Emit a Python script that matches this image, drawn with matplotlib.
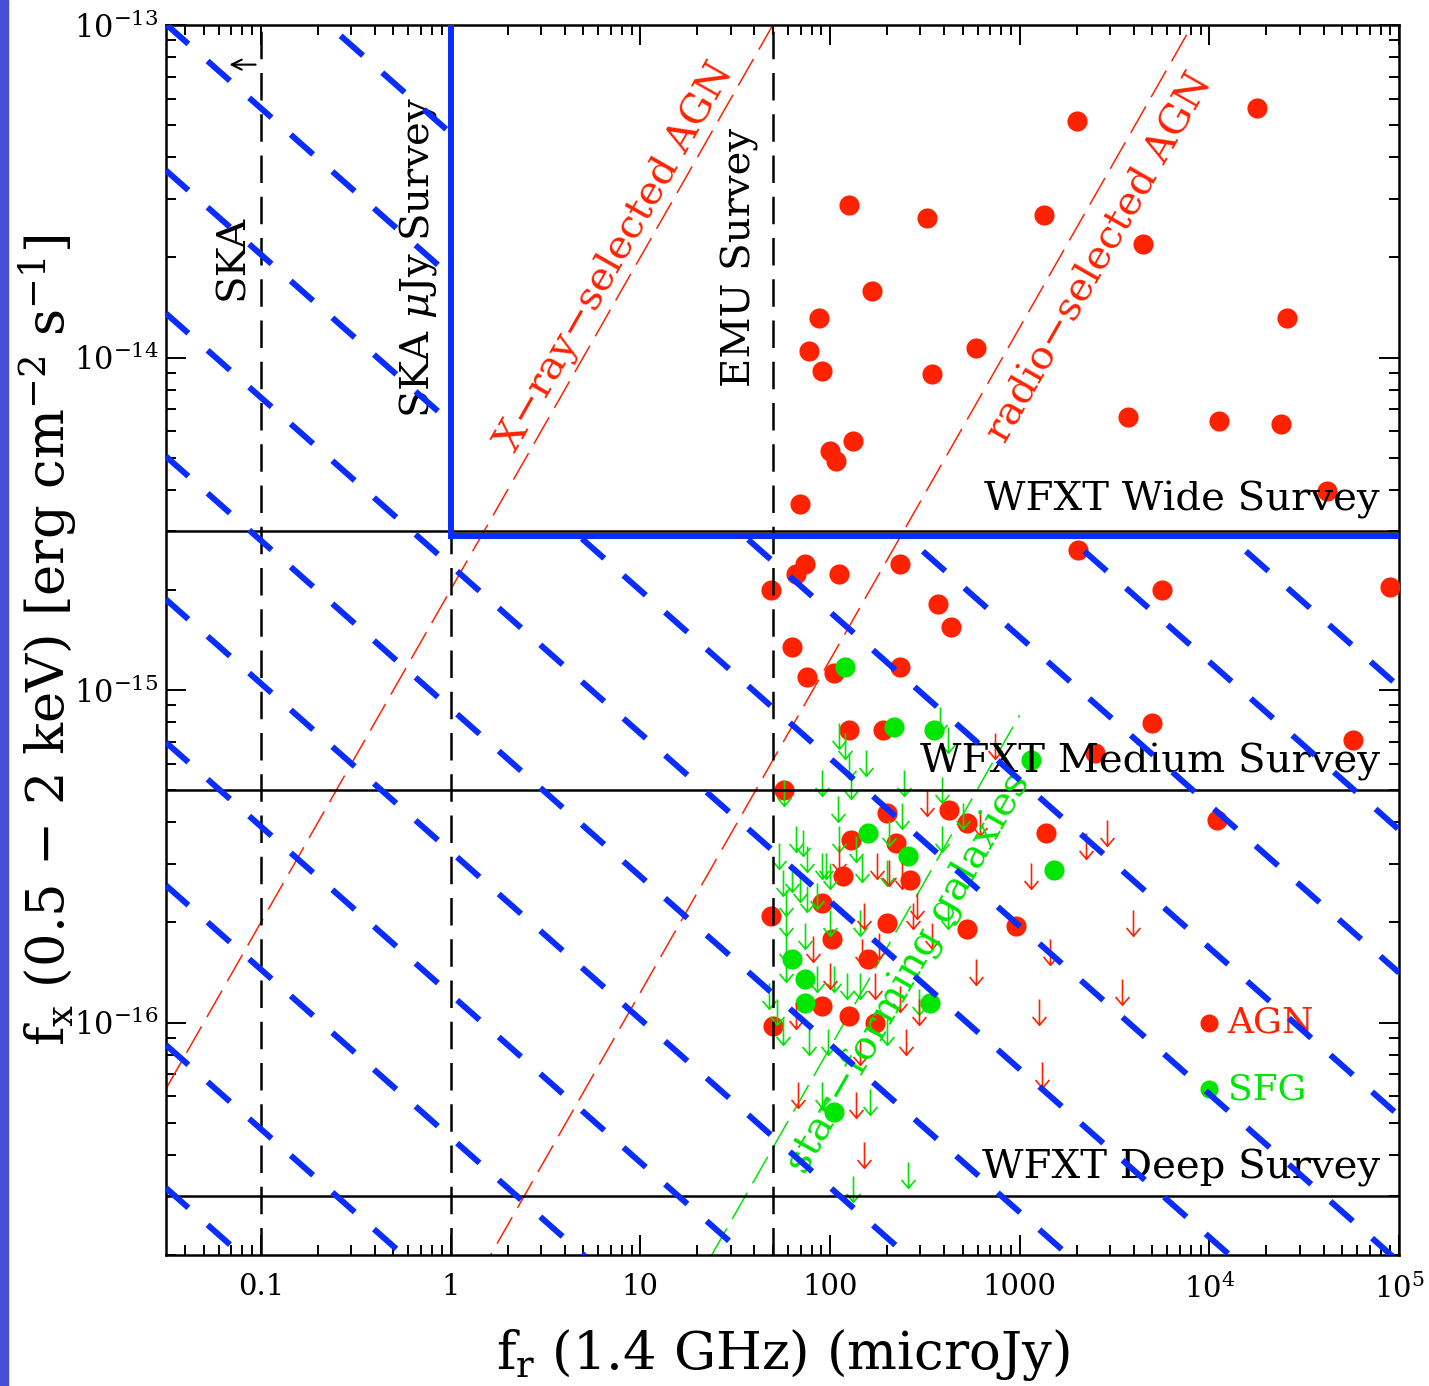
import numpy as np
import matplotlib
matplotlib.use("Agg")
import matplotlib.pyplot as plt
from matplotlib.path import Path
from matplotlib.patches import Polygon, Rectangle
from matplotlib.ticker import FixedLocator, FixedFormatter, LogLocator, NullFormatter

plt.rcParams['font.family'] = ['DejaVu Serif']
plt.rcParams['mathtext.fontset'] = 'dejavuserif'

# ---------------- data (log10 of f_r [microJy], log10 of f_x [erg cm^-2 s^-1]) -------------
agn_log_fr = [4.25, 3.30, 2.10, 2.51, 3.13, 3.65, 2.22, 1.94, 4.41, 1.89, 1.96, 2.77, 2.54,
              3.57, 4.05, 4.38, 2.12, 2.00, 2.03, 1.84, 4.62, 3.31, 1.87, 1.82, 2.05, 1.69,
              2.37, 3.75, 4.95, 2.57, 2.64, 1.80, 2.37, 1.88, 2.02, 2.10, 2.28, 3.70, 4.76,
              3.40, 1.76, 2.63, 2.30, 2.72, 2.11, 2.35, 3.14, 2.07, 2.42, 1.96, 1.69, 2.01,
              2.30, 2.72, 2.98, 2.20, 2.10, 2.24, 1.96, 1.70, 4.04]
agn_log_fx = [-13.25, -13.29, -13.54, -13.58, -13.57, -13.66, -13.80, -13.88, -13.88, -13.98,
              -14.04, -13.97, -14.05, -14.18, -14.19, -14.20, -14.25, -14.28, -14.31, -14.44,
              -14.40, -14.58, -14.62, -14.65, -14.65, -14.70, -14.62, -14.70, -14.69, -14.74,
              -14.81, -14.87, -14.93, -14.96, -14.95, -15.12, -15.12, -15.10, -15.15, -15.19,
              -15.30, -15.36, -15.37, -15.40, -15.45, -15.46, -15.43, -15.56, -15.57, -15.64,
              -15.68, -15.75, -15.70, -15.72, -15.71, -15.81, -15.98, -16.00, -15.95, -16.01,
              -15.39]

sfg_log_fr = [2.08, 2.34, 2.55, 3.06, 2.20, 2.41, 3.18, 1.80, 1.87, 1.87, 2.53, 2.02]
sfg_log_fx = [-14.93, -15.11, -15.12, -15.21, -15.43, -15.50, -15.54, -15.81, -15.87, -15.94,
              -15.94, -16.27]

agn_lim_log_fr = [2.87, 2.51, 2.05, 2.25, 2.31, 2.38, 3.06, 2.79, 2.46, 1.91, 2.18, 2.44, 2.54,
                  2.17, 2.26, 2.24, 2.00, 2.37, 2.77, 3.10, 2.47, 2.40, 1.83, 2.14, 3.12, 1.82,
                  2.16, 2.18, 3.46, 3.35, 3.60, 3.16, 3.54]
agn_lim_log_fx = [-15.13, -15.30, -15.47, -15.49, -15.51, -15.52, -15.52, -15.36, -15.61, -15.74,
                  -15.64, -15.64, -15.70, -15.75, -15.73, -15.85, -15.82, -15.89, -15.81, -15.93,
                  -15.93, -16.02, -16.18, -16.21, -16.12, -15.94, -16.05, -16.36, -15.39, -15.43,
                  -15.66, -15.75, -15.87]

sfg_lim_log_fr = [2.05, 2.08, 2.10, 2.19, 1.96, 2.11, 2.39, 2.58, 2.62, 2.59, 1.76, 2.04, 2.38,
                  2.31, 2.05, 2.14, 1.73, 1.82, 1.86, 1.88, 1.96, 1.98, 2.00, 1.75, 1.80, 1.84,
                  1.88, 1.93, 2.17, 2.30, 2.59, 2.70, 1.77, 1.77, 1.87, 2.00, 2.16, 1.77, 1.77,
                  1.93, 2.02, 2.09, 2.16, 1.68, 1.72, 1.75, 1.89, 1.99, 2.30, 2.47, 1.96, 2.21,
                  2.62, 2.41, 2.12]
sfg_lim_log_fx = [-15.10, -15.13, -15.19, -15.18, -15.24, -15.25, -15.24, -15.05, -15.11, -15.26,
                  -15.27, -15.32, -15.34, -15.39, -15.41, -15.44, -15.46, -15.41, -15.42, -15.47,
                  -15.49, -15.49, -15.52, -15.54, -15.53, -15.56, -15.59, -15.58, -15.50, -15.51,
                  -15.41, -15.34, -15.60, -15.66, -15.70, -15.66, -15.66, -15.74, -15.80, -15.83,
                  -15.83, -15.85, -15.85, -15.88, -15.93, -15.99, -16.02, -16.02, -15.99, -15.90,
                  -16.18, -16.20, -15.64, -16.42, -16.46]

# survey limits
xray_survey_names = ['WFXT Wide Survey', 'WFXT Medium Survey', 'WFXT Deep Survey']
xray_survey_fx = [3e-15, 5e-16, 3e-17]
radio_survey_names = ['SKA', 'SKA $\\mu$Jy Survey', 'EMU Survey']
radio_survey_fr = [0.1, 1.0, 50.0]

# flux-ratio loci  (f_x = ratio * f_r)
xray_agn_ratio = 2.0e-15
radio_agn_ratio = 1.23e-17
sfg_ratio = 8.4e-19
sfg_locus_max_fr = 1000.0

# SKA muJy + WFXT wide box
box_fr_min = 1.0
box_fx_min = 2.9e-15
# hatching lines outside the box: log10 f_x reached at f_r = 1e5, slope in log-log
hatch_log_fx_at_1e5 = [-14.56, -14.99, -15.42, -15.85, -16.28, -16.72, -17.15, -17.58,
                       -18.01, -18.44, -18.87, -19.35, -19.78]
hatch_slope = -0.505

legend_labels = ['AGN', 'SFG']

# ---------------- figure ----------------
W, H = 1429, 1386
fig = plt.figure(figsize=(W / 100, H / 100), dpi=100)
ax = fig.add_axes([166 / W, 1 - 1255 / H, (1399 - 166) / W, (1255 - 25) / H])

RED = '#ff2200'
GREEN = '#00e600'
BLUE = '#0a2dff'

xmin, xmax = 10 ** -1.5, 1e5
ymin, ymax = 2e-17, 1e-13
ax.set_xscale('log')
ax.set_yscale('log')
ax.set_xlim(xmin, xmax)
ax.set_ylim(ymin, ymax)

# left presentation stripe
fig.patches.append(Rectangle((0, 0), 8 / W, 1, transform=fig.transFigure,
                             color='#4550d8', zorder=0))

# data points
ax.plot(10 ** np.array(agn_log_fr), 10 ** np.array(agn_log_fx), 'o', color=RED,
        ms=14.5, mec='none', zorder=3)
ax.plot(10 ** np.array(sfg_log_fr), 10 ** np.array(sfg_log_fx), 'o', color=GREEN,
        ms=14.5, mec='none', zorder=3)

arrow_path = Path([(0, 0), (0, -1), (-0.27, -0.68), (0, -1), (0.27, -0.68)],
                  [Path.MOVETO, Path.LINETO, Path.MOVETO, Path.LINETO, Path.LINETO])
ax.plot(10 ** np.array(sfg_lim_log_fr), 10 ** np.array(sfg_lim_log_fx), ls='none',
        marker=arrow_path, ms=37, mfc='none', mec=GREEN, mew=1.2, zorder=3)
ax.plot(10 ** np.array(agn_lim_log_fr), 10 ** np.array(agn_lim_log_fx), ls='none',
        marker=arrow_path, ms=37, mfc='none', mec=RED, mew=1.2, zorder=3)

# flux-ratio loci
fr_full = np.array([xmin, xmax])
ax.plot(fr_full, xray_agn_ratio * fr_full, color=RED, lw=1.1, ls=(0, (20, 7)), zorder=2)
ax.plot(fr_full, radio_agn_ratio * fr_full, color=RED, lw=1.1, ls=(0, (20, 7)), zorder=2)
fr_sfg = np.array([ymin / sfg_ratio, sfg_locus_max_fr])
ax.plot(fr_sfg, sfg_ratio * fr_sfg, color=GREEN, lw=1.1, ls=(0, (20, 7)), zorder=2)

# survey limits
for fx in xray_survey_fx:
    ax.axhline(fx, color='black', lw=1.8, zorder=4)
for fr in radio_survey_fr:
    ax.axvline(fr, color='black', lw=1.8, ls=(0, (11, 5.5)), zorder=4)

# blue box
ax.plot([box_fr_min, box_fr_min, xmax], [ymax, box_fx_min, box_fx_min], color=BLUE,
        lw=4.3, solid_joinstyle='miter', zorder=6)

# hatching outside the box
clip = Polygon([(xmin, ymin), (xmax, ymin), (xmax, box_fx_min), (box_fr_min, box_fx_min),
                (box_fr_min, ymax), (xmin, ymax)], closed=True, transform=ax.transData)
lfr_ends = np.array([np.log10(xmin), 5.0])
for a in hatch_log_fx_at_1e5:
    lfx = a + hatch_slope * (lfr_ends - 5.0)
    ln, = ax.plot(10 ** lfr_ends, 10 ** lfx, color=BLUE, lw=4.3, ls=(0, (5, 4.3)),
                  dash_capstyle='butt', zorder=7)
    ln.set_clip_path(clip)

# small arrow near SKA line
ax.annotate('', xy=(0.066, 7.6e-14), xytext=(0.097, 7.6e-14),
            arrowprops=dict(arrowstyle='->', lw=1.5, color='black', mutation_scale=18),
            zorder=5)

# labels for radio surveys
TS = 29
ax.text(0.071, 2.0e-14, radio_survey_names[0], rotation=90, ha='center', va='center',
        fontsize=TS, zorder=5)
ax.text(0.67, 2.0e-14, radio_survey_names[1], rotation=90, ha='center', va='center',
        fontsize=TS, zorder=5)
ax.text(33.4, 2.0e-14, radio_survey_names[2], rotation=90, ha='center', va='center',
        fontsize=TS, zorder=5)

ang = 60.3
ax.text(7.4, 2.0e-14, 'X\u2212ray\u2212selected AGN', rotation=ang, ha='center', va='center',
        color=RED, fontsize=TS, zorder=5)
ax.text(2640, 2.0e-14, 'radio\u2212selected AGN', rotation=ang, ha='center', va='center',
        color=RED, fontsize=TS, zorder=5)
ax.text(260, 1.41e-16, 'star\u2212forming galaxies', rotation=ang, ha='center', va='center',
        color=GREEN, fontsize=TS, zorder=5)

# WFXT labels
survey_label_y = [0.6138, 0.4008, 0.0707]
for name, yy in zip(xray_survey_names, survey_label_y):
    ax.text(0.9846, yy, name, transform=ax.transAxes, ha='right', va='center',
            fontsize=TS, zorder=5)

# legend
ax.plot([1e4], [1e-16], 'o', color=RED, ms=13, mec='none', zorder=3)
ax.plot([1e4], [6.3e-17], 'o', color=GREEN, ms=13, mec='none', zorder=3)
ax.text(1.25e4, 1e-16, legend_labels[0], color=RED, fontsize=26, ha='left', va='center', zorder=5)
ax.text(1.25e4, 6.3e-17, legend_labels[1], color=GREEN, fontsize=26, ha='left', va='center', zorder=5)

# ticks
xt = [0.1, 1, 10, 100, 1000, 1e4, 1e5]
xtl = ['0.1', '1', '10', '100', '1000', '$10^4$', '$10^5$']
yt = [1e-16, 1e-15, 1e-14, 1e-13]
ytl = ['$10^{-16}$', '$10^{-15}$', '$10^{-14}$', '$10^{-13}$']
ax.xaxis.set_major_locator(FixedLocator(xt))
ax.xaxis.set_major_formatter(FixedFormatter(xtl))
ax.yaxis.set_major_locator(FixedLocator(yt))
ax.yaxis.set_major_formatter(FixedFormatter(ytl))
ax.xaxis.set_minor_locator(LogLocator(base=10, subs=np.arange(2, 10), numticks=50))
ax.yaxis.set_minor_locator(LogLocator(base=10, subs=np.arange(2, 10), numticks=50))
ax.xaxis.set_minor_formatter(NullFormatter())
ax.yaxis.set_minor_formatter(NullFormatter())
ax.tick_params(which='both', direction='in', top=True, right=True, width=1.4, colors='black')
ax.tick_params(which='major', length=14.5)
ax.tick_params(which='minor', length=7.5)
ax.tick_params(axis='x', which='major', pad=13, labelsize=21)
ax.tick_params(axis='y', which='major', pad=5, labelsize=22)
for s in ax.spines.values():
    s.set_linewidth(1.8)

ax.set_xlabel('f$_\\mathrm{r}$ (1.4 GHz) (microJy)', fontsize=38)
ax.xaxis.label.set_va('center')
ax.xaxis.set_label_coords(0.5, -(1355 - 1255) / 1230)
ax.set_ylabel('f$_\\mathrm{x}$ (0.5 \u2212 2 keV) [erg cm$^{-2}$ s$^{-1}$]', fontsize=38)
ax.yaxis.label.set_va('center')
ax.yaxis.set_label_coords(-(166 - 48) / 1233, 0.5)

fig.savefig('out.png', dpi=100)
